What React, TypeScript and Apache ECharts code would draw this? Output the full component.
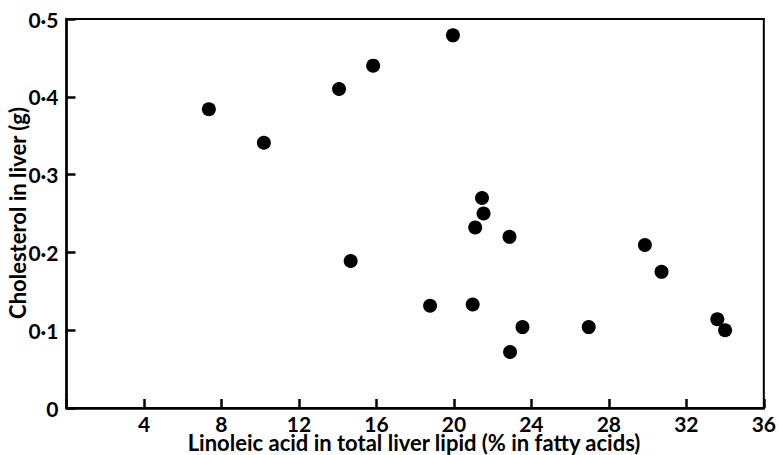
import React, { useEffect, useRef } from "react";
import * as echarts from "echarts";

const linoleicPct: number[] = [7.35, 10.19, 14.07, 15.83, 19.95, 14.67, 18.77, 20.97, 21.1, 21.45, 21.53, 22.87, 22.9, 23.54, 26.96, 29.86, 30.72, 33.6, 34.0];
const cholesterolG: number[] = [0.384, 0.341, 0.41, 0.44, 0.479, 0.189, 0.1315, 0.133, 0.232, 0.27, 0.25, 0.22, 0.072, 0.104, 0.104, 0.2095, 0.175, 0.114, 0.1];

const xTitle = "Linoleic acid in total liver lipid (% in fatty acids)";
const yTitle = "Cholesterol in liver (g)";

const FONT = "Lato, 'Open Sans', sans-serif";

export default function App() {
  const ref = useRef<HTMLDivElement>(null);
  useEffect(() => {
    if (!ref.current) return;
    const chart = echarts.init(ref.current, null, { renderer: "svg" });
    const data = linoleicPct.map((x, i) => [x, cholesterolG[i]]);
    chart.setOption({
      animation: false,
      backgroundColor: "#fff",
      grid: {
        left: 66.5,
        right: 13.5,
        top: 19,
        bottom: 47,
        show: true,
        borderColor: "#000",
        borderWidth: 2,
        backgroundColor: "transparent",
      },
      xAxis: {
        type: "value",
        min: 0,
        max: 36,
        interval: 4,
        splitLine: { show: false },
        axisLine: { show: true, lineStyle: { color: "#000", width: 2.5 } },
        axisTick: { show: true, inside: true, length: 9, lineStyle: { color: "#000", width: 2.5 } },
        axisLabel: {
          color: "#000",
          fontFamily: FONT,
          fontSize: 21,
          fontWeight: 700,
          margin: 5,
          formatter: (v: number) => (v === 0 ? "" : String(v)),
        },
      },
      yAxis: {
        type: "value",
        min: 0,
        max: 0.5,
        interval: 0.1,
        splitLine: { show: false },
        axisLine: { show: true, lineStyle: { color: "#000", width: 2.5 } },
        axisTick: { show: true, inside: true, length: 9, lineStyle: { color: "#000", width: 2.5 } },
        axisLabel: {
          color: "#000",
          fontFamily: FONT,
          fontSize: 21,
          fontWeight: 700,
          margin: 8,
          formatter: (v: number) => (v === 0 ? "0" : v.toFixed(1).replace(".", "\u00b7")),
        },
      },
      graphic: [
        {
          type: "text",
          x: 414,
          y: 442,
          style: {
            text: xTitle,
            fill: "#000",
            font: `700 22px ${FONT}`,
            textAlign: "center",
            textVerticalAlign: "middle",
          },
        },
        {
          type: "text",
          x: 17,
          y: 213,
          rotation: Math.PI / 2,
          style: {
            text: yTitle,
            fill: "#000",
            font: `700 22px ${FONT}`,
            textAlign: "center",
            textVerticalAlign: "middle",
          },
        },
      ],
      series: [
        {
          type: "scatter",
          data,
          symbol: "circle",
          symbolSize: 14,
          itemStyle: { color: "#000", opacity: 1 },
        },
      ],
    });
    return () => chart.dispose();
  }, []);
  return <div ref={ref} style={{ position: "fixed", left: 0, top: 0, width: 779, height: 455 }} />;
}
